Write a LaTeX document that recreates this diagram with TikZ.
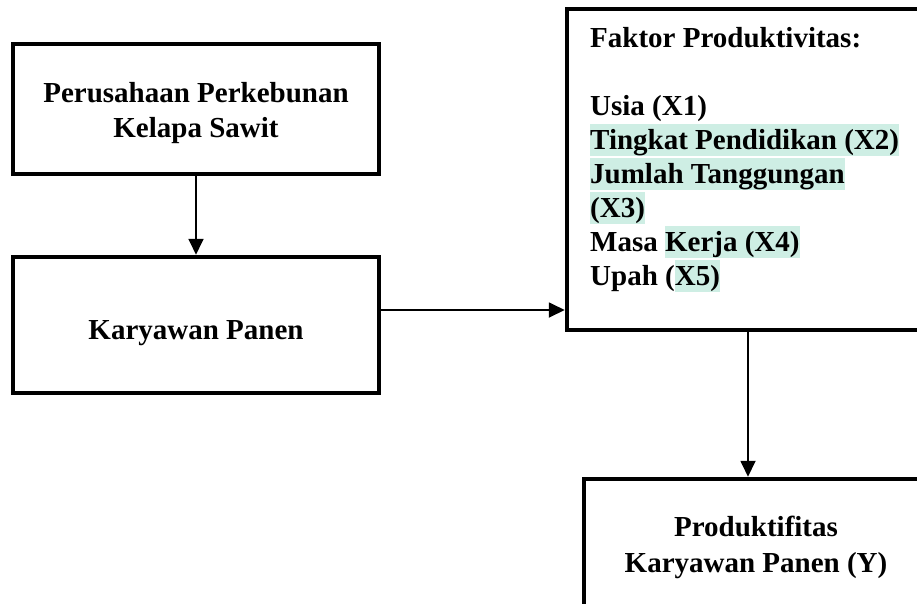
\documentclass[tikz,border=0pt]{standalone}
\usepackage{fontspec}
\setmainfont{Liberation Serif}
\usetikzlibrary{arrows.meta}
\definecolor{hlc}{RGB}{206,238,228}
\newcommand\hlbox[1]{{\setlength\fboxsep{0pt}\colorbox{hlc}{\rule[-6.5pt]{0pt}{32pt}#1}}}
\tikzset{
  boxnode/.style={draw=black, line width=4.5pt, rectangle, inner sep=0pt, fill=none},
  lbl/.style={font=\fontsize{29}{34}\selectfont\bfseries, inner sep=0pt, anchor=base},
  llbl/.style={font=\fontsize{29}{34}\selectfont\bfseries, inner sep=0pt, anchor=base west},
  conn/.style={line width=1.8pt, -{Triangle[length=16pt,width=15pt]}}
}
\begin{document}
\begin{tikzpicture}[x=1pt,y=-1pt]
\clip (0,0) rectangle (917,603);
\fill[white] (0,0) rectangle (917,603);
% boxes
\node[boxnode, minimum width=366pt, minimum height=130pt] (b1) at (196,109) {};
\node[boxnode, minimum width=366pt, minimum height=136pt] (b2) at (196,325) {};
\node[boxnode, minimum width=373pt, minimum height=321pt] (b3) at (753.5,169.5) {};
\node[boxnode, minimum width=356pt, minimum height=161pt] (b4) at (762,559.5) {};
% labels
\node[lbl] (t1a) at (196,102) {Perusahaan Perkebunan};
\node[lbl] (t1b) at (196,137) {Kelapa Sawit};
\node[lbl] (t2) at (196,339) {Karyawan Panen};
\node[lbl] (t4a) at (756,536) {Produktifitas};
\node[lbl] (t4b) at (756,572) {Karyawan Panen (Y)};
\node[llbl] (f0) at (590,47) {Faktor Produktivitas:};
\node[llbl] (f1) at (590,115) {Usia (X1)};
\node[llbl] (f2) at (590,149) {\hlbox{Tingkat Pendidikan (X2)}};
\node[llbl] (f3) at (590,183) {\hlbox{Jumlah Tanggungan}};
\node[llbl] (f3b) at (590,217) {\hlbox{(X3)}};
\node[llbl] (f4) at (590,251) {Masa \hlbox{Kerja (X4)}};
\node[llbl] (f5) at (590,285) {Upah (\hlbox{X5)}};
% connectors
\draw[conn] (b1.south) -- (b2.north);
\draw[conn] (b2.east |- 0,310) -- (b3.west |- 0,310);
\draw[conn] (b3.south -| 748,0) -- (b4.north -| 748,0);
\end{tikzpicture}
\end{document}
